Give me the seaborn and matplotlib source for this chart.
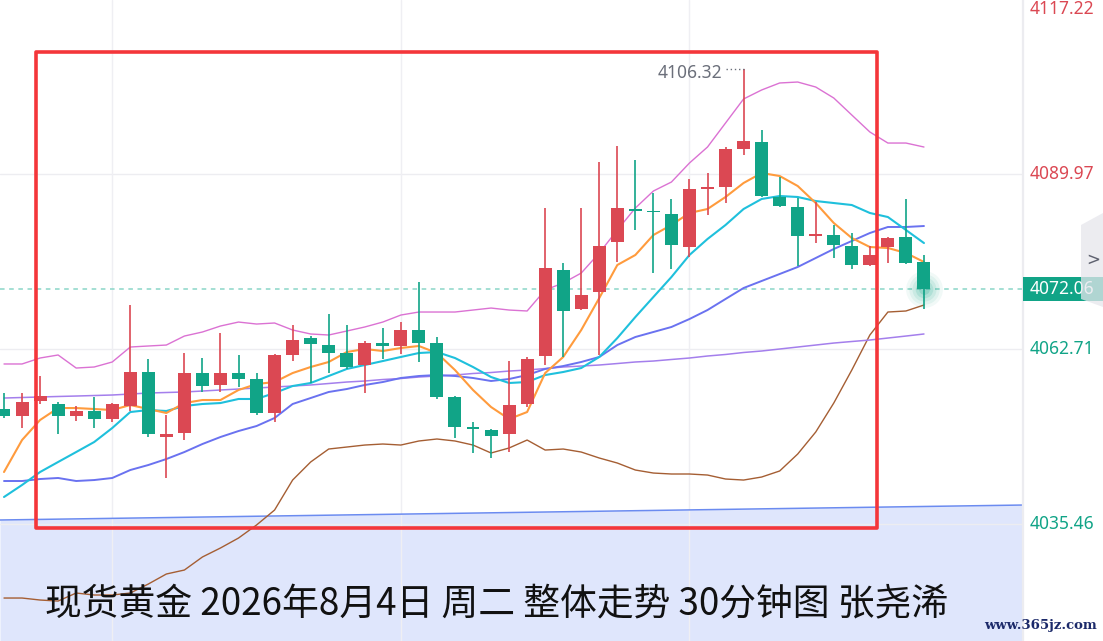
import numpy as np
import pandas as pd
import matplotlib
matplotlib.use("Agg")
import matplotlib.pyplot as plt
import matplotlib.transforms as mtransforms
from matplotlib.patches import Rectangle, Polygon
import seaborn as sns

# ---------------- data ----------------
opens = [4053.4, 4052.3, 4054.6, 4054.2, 4052.3, 4053.1, 4051.8, 4053.9, 4059.1, 4049.0,
         4049.6, 4059.0, 4057.1, 4059.0, 4058.1, 4052.8, 4061.8, 4064.4, 4063.3, 4062.1,
         4060.2, 4063.7, 4063.2, 4065.7, 4063.7, 4055.2, 4050.6, 4050.1, 4049.5, 4054.2,
         4061.6, 4075.0, 4069.0, 4071.6, 4079.4, 4084.5, 4084.2, 4083.7, 4078.6, 4087.6,
         4087.9, 4093.9, 4094.9, 4086.4, 4084.8, 4080.3, 4080.5, 4078.8, 4075.8, 4078.6,
         4080.2, 4076.3]
highs = [4055.9, 4055.9, 4058.5, 4054.5, 4053.9, 4055.2, 4054.3, 4069.6, 4061.2, 4052.4,
         4062.1, 4061.3, 4065.2, 4061.8, 4059.0, 4061.9, 4066.5, 4064.7, 4068.2, 4066.5,
         4064.0, 4066.0, 4066.9, 4073.2, 4064.6, 4055.4, 4051.4, 4050.2, 4060.9, 4061.4,
         4084.7, 4076.1, 4084.7, 4091.8, 4094.3, 4092.2, 4087.0, 4086.1, 4089.2, 4090.1,
         4094.1, 4106.32, 4096.8, 4089.5, 4086.2, 4085.6, 4082.0, 4080.8, 4078.8, 4080.2,
         4086.1, 4077.4]
lows = [4052.0, 4050.4, 4054.2, 4049.5, 4051.5, 4050.4, 4051.4, 4053.1, 4049.0, 4042.6,
        4048.5, 4056.0, 4056.0, 4056.8, 4052.4, 4051.4, 4060.9, 4057.4, 4059.0, 4059.6,
        4055.9, 4061.2, 4061.9, 4060.7, 4054.9, 4048.9, 4046.5, 4045.8, 4046.7, 4053.7,
        4060.2, 4061.5, 4068.8, 4061.8, 4076.3, 4081.2, 4074.6, 4075.2, 4077.0, 4083.6,
        4085.5, 4092.9, 4086.4, 4084.8, 4075.6, 4079.2, 4076.9, 4075.2, 4075.6, 4076.1,
        4076.0, 4069.0]
closes = [4052.3, 4054.5, 4055.4, 4052.3, 4053.1, 4051.8, 4054.2, 4059.1, 4049.5, 4049.5,
          4059.0, 4057.0, 4059.0, 4058.1, 4052.8, 4061.8, 4064.1, 4063.5, 4062.1, 4059.9,
          4063.7, 4063.2, 4065.7, 4063.7, 4055.2, 4050.6, 4050.3, 4049.2, 4054.0, 4061.2,
          4075.3, 4068.6, 4071.1, 4078.8, 4084.7, 4084.2, 4084.0, 4078.9, 4087.6, 4087.9,
          4093.9, 4095.1, 4086.5, 4085.0, 4080.3, 4080.5, 4078.9, 4075.8, 4077.4, 4080.0,
          4076.1, 4072.06]

ma5 = [4043.57, 4048.55, 4051.67, 4053.53, 4053.53, 4053.38, 4053.22, 4054.00, 4053.38, 4052.76,
       4054.31, 4054.78, 4054.78, 4056.34, 4057.27, 4057.58, 4058.98, 4059.92, 4060.70, 4062.25,
       4062.72, 4062.41, 4062.88, 4063.19, 4062.10, 4059.45, 4056.34, 4053.69, 4051.82, 4052.91,
       4058.98, 4061.48, 4065.68, 4070.66, 4075.80, 4077.36, 4080.47, 4082.03, 4083.90, 4084.52,
       4086.39, 4088.57, 4090.12, 4089.66, 4088.10, 4085.45, 4082.34, 4080.00, 4078.60, 4078.45,
       4077.67, 4076.27]
ma10 = [4039.68, 4041.55, 4043.57, 4045.13, 4046.68, 4048.24, 4050.42, 4052.91, 4053.22, 4053.07,
        4053.85, 4054.16, 4054.31, 4054.94, 4054.94, 4055.87, 4056.96, 4057.43, 4058.52, 4059.61,
        4060.23, 4060.85, 4061.48, 4062.10, 4062.25, 4061.32, 4059.92, 4058.36, 4057.43, 4057.58,
        4058.67, 4059.14, 4059.76, 4061.48, 4064.43, 4067.70, 4070.82, 4073.93, 4077.36, 4079.85,
        4082.03, 4084.52, 4086.08, 4086.54, 4086.39, 4085.76, 4085.45, 4085.14, 4083.90, 4083.27,
        4081.25, 4079.22]
ma30 = [4042.17, 4042.17, 4042.48, 4042.64, 4042.17, 4042.32, 4042.64, 4043.88, 4044.66, 4045.59,
        4046.68, 4047.93, 4049.02, 4049.95, 4050.73, 4051.98, 4054.16, 4055.09, 4056.03, 4056.49,
        4057.12, 4057.58, 4058.21, 4058.52, 4058.67, 4058.52, 4058.21, 4057.74, 4058.05, 4058.67,
        4059.61, 4060.07, 4060.70, 4061.48, 4063.34, 4064.59, 4065.37, 4066.15, 4067.39, 4068.79,
        4070.51, 4072.22, 4073.31, 4074.40, 4075.49, 4076.89, 4078.29, 4079.54, 4080.78, 4081.72,
        4081.72, 4081.87]
ma60 = [4055.09, 4055.17, 4055.25, 4055.33, 4055.40, 4055.48, 4055.56, 4055.71, 4055.87, 4055.95,
        4056.03, 4056.18, 4056.34, 4056.49, 4056.65, 4056.80, 4056.96, 4057.12, 4057.35, 4057.58,
        4057.74, 4057.97, 4058.13, 4058.36, 4058.52, 4058.67, 4058.91, 4059.06, 4059.29, 4059.45,
        4059.68, 4059.92, 4060.07, 4060.23, 4060.46, 4060.70, 4060.85, 4061.09, 4061.32, 4061.63,
        4061.87, 4062.18, 4062.41, 4062.72, 4063.03, 4063.34, 4063.65, 4063.89, 4064.12, 4064.43,
        4064.74, 4065.06]
boll_up = [4060.39, 4060.39, 4061.32, 4061.79, 4059.76, 4059.92, 4060.70, 4063.03, 4063.19, 4063.34,
           4064.74, 4065.37, 4066.30, 4066.92, 4066.61, 4066.77, 4065.68, 4065.06, 4064.90, 4065.52,
           4066.15, 4066.92, 4068.01, 4068.48, 4068.48, 4068.48, 4068.79, 4069.10, 4068.79, 4068.64,
           4071.91, 4073.00, 4074.55, 4077.67, 4081.25, 4084.67, 4087.32, 4088.72, 4091.68, 4094.17,
           4097.91, 4101.65, 4103.05, 4104.14, 4104.29, 4103.51, 4101.80, 4099.15, 4096.51, 4094.79,
           4094.79, 4094.17]
boll_dn = [4023.95, 4023.95, 4023.64, 4023.48, 4024.73, 4024.42, 4024.42, 4024.73, 4026.13, 4027.69,
           4028.31, 4030.34, 4031.74, 4033.29, 4035.32, 4037.65, 4042.32, 4045.13, 4047.15, 4047.46,
           4047.77, 4047.93, 4047.77, 4048.40, 4048.71, 4048.40, 4047.77, 4046.53, 4047.31, 4048.55,
           4046.99, 4047.15, 4046.68, 4045.75, 4044.97, 4043.88, 4043.41, 4043.26, 4043.26, 4043.10,
           4042.48, 4042.32, 4042.79, 4043.73, 4046.37, 4049.80, 4054.31, 4059.45, 4064.90, 4068.48,
           4068.64, 4069.57]
trend_line = [4036.10, 4038.43]          # value at left / right edge of the plot
axis_ticks = [4117.22, 4089.97, 4062.71, 4035.46]
axis_tick_labels = ["4117.22", "4089.97", "4062.71", "4035.46"]
last_price = 4072.06
peak_price = 4106.32
peak_label = "4106.32"
title_text = "现货黄金 2026年8月4日 周二 整体走势 30分钟图 张尧浠"
watermark_text = "www.365jz.com"

# ---------------- styles ----------------
RED = "#DB4853"
GREEN = "#11A487"
C_MA5 = "#FF9B3D"
C_MA10 = "#1FC0DC"
C_MA30 = "#6A72F0"
C_MA60 = "#A47FEC"
C_UP = "#DB72D3"
C_DN = "#A55E33"
C_TREND = "#6B8BF0"
C_FILL = "#DFE6FC"

sns.set_theme(style="white")
plt.rcParams["font.family"] = ["Noto Sans CJK SC", "DejaVu Sans"]

W, H = 1103, 641
fig = plt.figure(figsize=(W / 100, H / 100), dpi=100)
fig.patch.set_facecolor("white")
AX_R = 1023 / W
ax = fig.add_axes([0, 0, AX_R, 1])
ax.set_facecolor("white")

n = len(closes)
idx = np.arange(n)
x_lo, x_hi = -0.222, 56.49
y_lo, y_hi = 4017.26, 4117.06
ax.set_xlim(x_lo, x_hi)
ax.set_ylim(y_lo, y_hi)

# grid
for t in axis_ticks[1:]:
    ax.axhline(t, color="#EDEDF1", lw=1.0, zorder=0.6)
for gx in [6, 22, 38]:
    ax.axvline(gx, color="#EFEFF3", lw=1.0, zorder=0.6)

# lower shaded region under trend line
ax.fill_between([x_lo, x_hi], trend_line, [y_lo, y_lo], color=C_FILL, zorder=0.5, lw=0)
sns.lineplot(x=[x_lo, x_hi], y=trend_line, ax=ax, color=C_TREND, lw=1.1, zorder=2)

# last price dashed line
ax.axhline(last_price, color="#8AD6C8", lw=1.1, ls=(0, (3, 3)), zorder=1.5)

# indicator lines
line_specs = [
    (boll_dn, C_DN, 1.0),
    (boll_up, C_UP, 1.0),
    (ma60, C_MA60, 1.1),
    (ma30, C_MA30, 1.4),
    (ma10, C_MA10, 1.5),
    (ma5, C_MA5, 1.5),
]
for vals, col, lw in line_specs:
    df = pd.DataFrame({"i": idx, "v": vals})
    sns.lineplot(data=df, x="i", y="v", ax=ax, color=col, lw=lw, zorder=2.5, legend=False)

# candles
o = np.array(opens); c = np.array(closes); h = np.array(highs); l = np.array(lows)
up = c >= o
cols = np.where(up, RED, GREEN)
ax.vlines(idx, l, h, colors=cols, lw=1.2, zorder=4)
body_bot = np.minimum(o, c)
body_h = np.maximum(np.abs(c - o), 0.25)
ax.bar(idx, body_h, bottom=body_bot, width=0.72, color=cols, zorder=5, lw=0)

# glow on last close
for s, a in [(700, 0.06), (480, 0.08), (300, 0.10), (160, 0.14), (60, 0.2)]:
    ax.scatter([idx[-1]], [last_price], s=s, color=GREEN, alpha=a, lw=0, zorder=6)

# peak annotation
ax.text(idx[41] - 1.2, peak_price - 0.6, peak_label, ha="right", va="center",
        fontsize=12.5, color="#6B6F7A", family=["Noto Sans", "DejaVu Sans"], zorder=7)
ax.plot([idx[41] - 0.95, idx[41]], [peak_price, peak_price], color="#6B6F7A",
        lw=1.0, ls=(0, (1, 2)), zorder=7)

# red box
ax.add_patch(Rectangle((0.0352, 0.1763), 0.8570 - 0.0352, 0.9193 - 0.1763,
                       transform=ax.transAxes, fill=False, ec="#F4363A", lw=2.6,
                       joinstyle="round", zorder=8))

# axes look
ax.set_xticks([]); ax.set_yticks([])
ax.set_xlabel(""); ax.set_ylabel("")
for side in ["top", "left", "bottom"]:
    ax.spines[side].set_visible(False)
ax.spines["right"].set_color("#ECECF0")
ax.spines["right"].set_linewidth(1.6)

# right price labels
blend = mtransforms.blended_transform_factory(ax.transAxes, ax.transData)
lab_x = 1 + 7 / 1023
for t, lab in zip(axis_ticks, axis_tick_labels):
    col = RED if t > last_price else GREEN
    va = "top" if t > y_hi else "center"
    ty = y_hi if t > y_hi else t
    ax.text(lab_x, ty, lab, transform=blend, ha="left", va=va, fontsize=12.5,
            color=col, family=["Noto Sans", "DejaVu Sans"], clip_on=False)

# current price tag
ax.add_patch(Rectangle((1.0, last_price - 1.85), 80 / 1023, 3.7, transform=blend,
                       color=GREEN, lw=0, clip_on=False, zorder=9))
ax.text(lab_x, last_price, f"{last_price:.2f}", transform=blend, ha="left", va="center",
        fontsize=12.5, color="white", family=["Noto Sans", "DejaVu Sans"],
        clip_on=False, zorder=10)

# side tab
tab = Polygon([[1081 / W, 1 - 225 / H], [1.0, 1 - 213 / H], [1.0, 1 - 307 / H],
               [1081 / W, 1 - 299 / H]], closed=True, transform=fig.transFigure,
              fc="#E6E6EC", ec="none", alpha=0.75, zorder=11)
fig.patches.append(tab)
fig.text(1093 / W, 1 - 260 / H, ">", ha="center", va="center", fontsize=12,
         color="#5F6270", family=["DejaVu Sans"], zorder=12)

# title
fig.text(45 / W, 1 - 605 / H, title_text, ha="left", va="center", fontsize=26.5,
         color="#111111", zorder=12)

# watermark
fig.text(1040 / W, 1 - 626 / H, watermark_text, ha="center", va="center", fontsize=9.5,
         color="#1C2A6A", family=["DejaVu Serif"], fontweight="bold", zorder=12)

fig.savefig("out.png", dpi=100, facecolor="white")
